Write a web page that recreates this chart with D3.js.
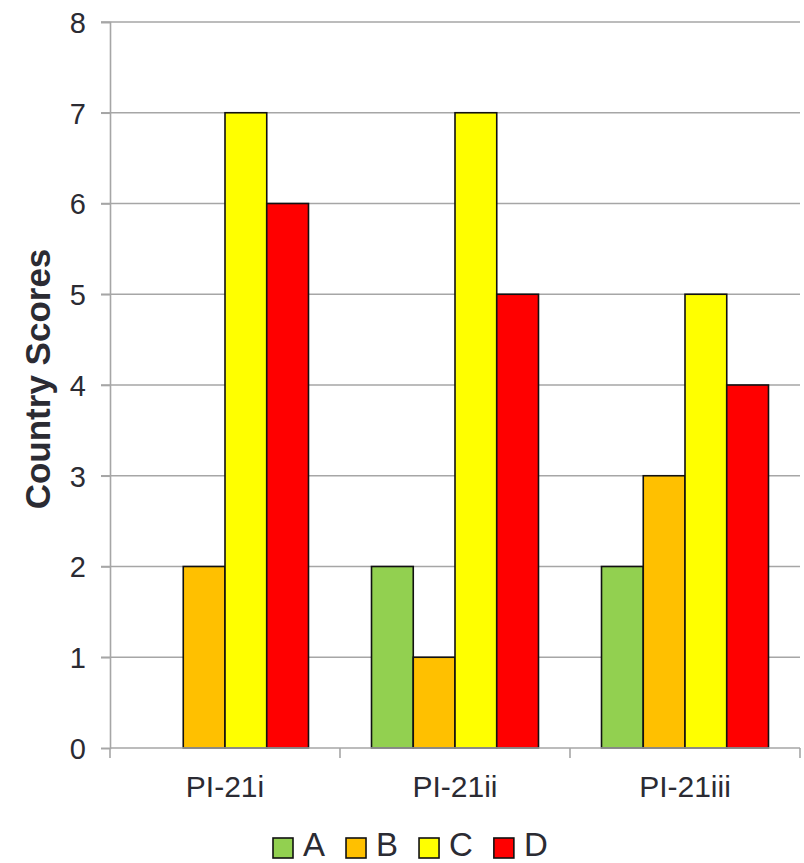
<!DOCTYPE html>
<html>
<head>
<meta charset="utf-8">
<script src="https://cdn.jsdelivr.net/npm/d3@7"></script>
<style>
  html, body { margin: 0; padding: 0; background: #fff; }
  svg { display: block; font-family: "Liberation Sans", Arial, sans-serif; }
</style>
</head>
<body>
<svg id="chart" width="804" height="863"></svg>
<script>
const categories = ["PI-21i", "PI-21ii", "PI-21iii"];
const seriesNames = ["A", "B", "C", "D"];
const valuesA = [0, 2, 2];
const valuesB = [2, 1, 3];
const valuesC = [7, 7, 5];
const valuesD = [6, 5, 4];
const seriesColors = ["#92D050", "#FFC000", "#FFFF00", "#FF0000"];
const yTicks = [0, 1, 2, 3, 4, 5, 6, 7, 8];
const yTitle = "Country Scores";

const seriesValues = [valuesA, valuesB, valuesC, valuesD];
const rows = categories.map((c, i) => ({
  cat: c,
  vals: seriesNames.map((s, j) => ({ key: s, value: seriesValues[j][i], color: seriesColors[j] }))
}));

const svg = d3.select("#chart");
const mLeft = 110, mRight = 800, mTop = 22, mBottom = 748;
const textColor = "#2b2b33";
const gridColor = "#a6a6a6";

const padIn = 0.274;
const x0 = d3.scaleBand().domain(categories).range([mLeft, mRight])
  .paddingInner(padIn).paddingOuter(padIn / 2);
const x1 = d3.scaleBand().domain(seriesNames).range([0, x0.bandwidth()]);
const y = d3.scaleLinear().domain([0, 8]).range([mBottom, mTop]);

// gridlines
svg.append("g").selectAll("line").data(yTicks.filter(t => t > 0)).join("line")
  .attr("x1", mLeft - 9).attr("x2", mRight)
  .attr("y1", d => y(d)).attr("y2", d => y(d))
  .attr("stroke", gridColor).attr("stroke-width", 1.6);

// y axis
const yAxis = d3.axisLeft(y).tickValues(yTicks).tickSize(9).tickPadding(15).tickFormat(d3.format("d"));
const gy = svg.append("g").attr("transform", `translate(${mLeft},0)`).call(yAxis);
gy.select(".domain").attr("stroke", gridColor).attr("stroke-width", 1.6);
gy.selectAll(".tick line").attr("stroke", gridColor).attr("stroke-width", 1.6);
gy.selectAll(".tick text").attr("fill", textColor).style("font-size", "29px")
  .attr("dy", "0.36em");

// bars
const groups = svg.append("g").selectAll("g").data(rows).join("g")
  .attr("transform", d => `translate(${x0(d.cat)},0)`);
groups.selectAll("rect").data(d => d.vals.filter(v => v.value > 0)).join("rect")
  .attr("x", d => x1(d.key))
  .attr("width", x1.bandwidth())
  .attr("y", d => y(d.value))
  .attr("height", d => y(0) - y(d.value))
  .attr("fill", d => d.color)
  .attr("stroke", "#111")
  .attr("stroke-width", 1.6);

// x axis
const step = x0.step();
const boundaries = categories.map(c => x0(c) - step * padIn / 2).concat([mRight]);
const gx = svg.append("g");
gx.append("line").attr("x1", mLeft).attr("x2", mRight).attr("y1", mBottom).attr("y2", mBottom)
  .attr("stroke", gridColor).attr("stroke-width", 1.6);
gx.selectAll("line.tk").data(boundaries).join("line").attr("class", "tk")
  .attr("x1", d => d).attr("x2", d => d).attr("y1", mBottom).attr("y2", mBottom + 10)
  .attr("stroke", gridColor).attr("stroke-width", 1.6);
gx.selectAll("text").data(categories).join("text")
  .attr("x", d => x0(d) + x0.bandwidth() / 2)
  .attr("y", 797)
  .attr("text-anchor", "middle")
  .attr("fill", textColor)
  .style("font-size", "30px")
  .text(d => d);

// y title
svg.append("text")
  .attr("transform", `translate(50,379) rotate(-90)`)
  .attr("text-anchor", "middle")
  .attr("fill", textColor)
  .style("font-size", "35px")
  .style("font-weight", "bold")
  .text(yTitle);

// legend
const legend = svg.append("g");
let lx = 273;
seriesNames.forEach((s, i) => {
  legend.append("rect").attr("x", lx).attr("y", 838).attr("width", 20).attr("height", 20)
    .attr("fill", seriesColors[i]).attr("stroke", "#111").attr("stroke-width", 1.6);
  const t = legend.append("text").attr("x", lx + 30).attr("y", 856)
    .attr("fill", textColor).style("font-size", "33px").text(s);
  const w = t.node().getComputedTextLength();
  lx = lx + 30 + w + 21;
});
</script>
</body>
</html>
